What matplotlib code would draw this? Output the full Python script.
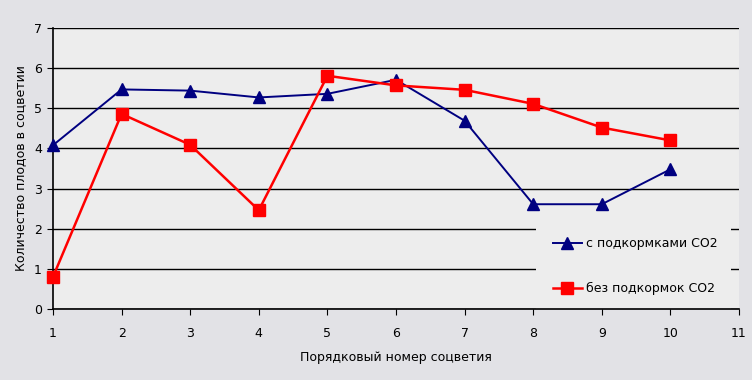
import matplotlib
matplotlib.use("Agg")
import matplotlib.pyplot as plt
from matplotlib.patches import Rectangle

x = [1, 2, 3, 4, 5, 6, 7, 8, 9, 10]
with_co2 = [4.08, 5.47, 5.44, 5.27, 5.36, 5.71, 4.69, 2.61, 2.61, 3.48]
without_co2 = [0.8, 4.86, 4.09, 2.46, 5.81, 5.57, 5.46, 5.11, 4.52, 4.2]
label_with = "с подкормками СО2"
label_without = "без подкормок СО2"
xticks = list(range(1, 12))
yticks = list(range(0, 8))

fig = plt.figure(figsize=(7.52, 3.80), dpi=100)
fig.patch.set_facecolor("#E2E2E6")
ax = fig.add_axes([53/752, 1-309/380, (739-53)/752, (309-28)/380])
ax.set_facecolor("#EDEDED")

ax.plot(x, with_co2, color="#000080", lw=1.4, marker="^", markersize=9,
        markerfacecolor="#000080", markeredgecolor="#000080", label=label_with,
        zorder=3, clip_on=False)
ax.plot(x, without_co2, color="#FF0000", lw=1.8, marker="s", markersize=9,
        markerfacecolor="#FF0000", markeredgecolor="#FF0000", label=label_without,
        zorder=3, clip_on=False)

ax.set_xlim(1, 11)
ax.set_ylim(0, 7)
ax.set_xticks(xticks)
ax.set_yticks(yticks)
ax.yaxis.grid(True, color="black", lw=1)
ax.set_axisbelow(True)
for s in ["top", "right"]:
    ax.spines[s].set_visible(False)
for s in ["left", "bottom"]:
    ax.spines[s].set_color("black")
    ax.spines[s].set_linewidth(1.2)
ax.tick_params(axis="x", length=4, pad=9, labelsize=9, direction="out")
ax.tick_params(axis="y", length=4, pad=4, labelsize=9, direction="out")

ax.set_xlabel("Порядковый номер соцветия", fontsize=9, labelpad=8)
ax.set_ylabel("Количество плодов в соцветии", fontsize=9, labelpad=5)

# legend background area (hides gridlines behind legend)
ax.add_patch(Rectangle((0.704, 0.0), 0.284, 0.335, transform=ax.transAxes,
                       facecolor="#EDEDED", edgecolor="none", zorder=1))

leg = ax.legend(loc="upper left", bbox_to_anchor=(0.729, 0.255),
                frameon=False, fontsize=9, labelspacing=2.55,
                handlelength=2.3, handletextpad=0.3, borderpad=0.0,
                borderaxespad=0.0)
leg.set_zorder(4)

fig.savefig("out.png", dpi=100, facecolor=fig.get_facecolor())
